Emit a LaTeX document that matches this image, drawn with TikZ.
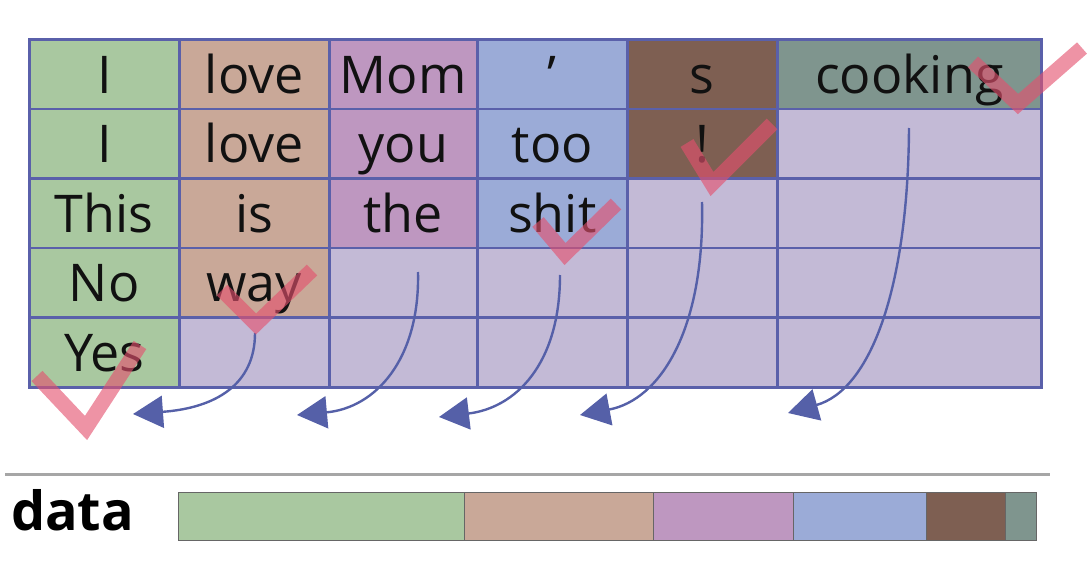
\documentclass[tikz,border=0pt]{standalone}
\usepackage{fontspec}
\setmainfont{Open Sans}
\usetikzlibrary{arrows.meta}
\definecolor{cgreen}{HTML}{A9C8A0}
\definecolor{csalmon}{HTML}{C9A898}
\definecolor{cpurple}{HTML}{BE97C0}
\definecolor{cblue}{HTML}{9BABD7}
\definecolor{cbrown}{HTML}{7E5F52}
\definecolor{cteal}{HTML}{7F958E}
\definecolor{cempty}{HTML}{C3BAD6}
\definecolor{gridc}{HTML}{5A60AA}
\definecolor{arrowc}{HTML}{5560A8}
\definecolor{checkc}{HTML}{E4506E}
\definecolor{txt}{HTML}{111111}
\tikzset{
  cell/.style={draw=gridc, line width=2.6pt, anchor=north west, minimum height=69.6pt,
    inner sep=0pt, text height=42pt, text depth=4pt, text=txt,
    font=\fontsize{52}{60}\selectfont},
  wa/.style={minimum width=150pt},
  wb/.style={minimum width=148pt},
  wc/.style={minimum width=264pt},
  flow/.style={draw=arrowc, line width=2.4pt, -{Triangle[length=30pt,width=32pt]}},
  tick/.style={draw=checkc, opacity=0.62, line width=15pt, line cap=butt, line join=miter},
  seg/.style={draw=black!60, line width=1.4pt, minimum height=48pt, anchor=north west, inner sep=0pt}
}
\begin{document}
\begin{tikzpicture}[x=1pt,y=-1pt]
\useasboundingbox (0,0) rectangle (1088,578);
% row 1
\node[cell,wa,fill=cgreen]  (r1c1) at (28,38) {I};
\node[cell,wa,fill=csalmon] (r1c2) at (178,38) {love};
\node[cell,wb,fill=cpurple] (r1c3) at (328,38) {Mom};
\node[cell,wa,fill=cblue]   (r1c4) at (476,38) {’};
\node[cell,wa,fill=cbrown]  (r1c5) at (626,38) {s};
\node[cell,wc,fill=cteal]   (r1c6) at (776,38) {cooking};
% row 2
\node[cell,wa,fill=cgreen]  (r2c1) at (28,107.6) {I};
\node[cell,wa,fill=csalmon] (r2c2) at (178,107.6) {love};
\node[cell,wb,fill=cpurple] (r2c3) at (328,107.6) {you};
\node[cell,wa,fill=cblue]   (r2c4) at (476,107.6) {too};
\node[cell,wa,fill=cbrown]  (r2c5) at (626,107.6) {!};
\node[cell,wc,fill=cempty]  (r2c6) at (776,107.6) {};
% row 3
\node[cell,wa,fill=cgreen]  (r3c1) at (28,177.2) {This};
\node[cell,wa,fill=csalmon] (r3c2) at (178,177.2) {is};
\node[cell,wb,fill=cpurple] (r3c3) at (328,177.2) {the};
\node[cell,wa,fill=cblue]   (r3c4) at (476,177.2) {shit};
\node[cell,wa,fill=cempty]  (r3c5) at (626,177.2) {};
\node[cell,wc,fill=cempty]  (r3c6) at (776,177.2) {};
% row 4
\node[cell,wa,fill=cgreen]  (r4c1) at (28,246.8) {No};
\node[cell,wa,fill=csalmon] (r4c2) at (178,246.8) {way};
\node[cell,wb,fill=cempty]  (r4c3) at (328,246.8) {};
\node[cell,wa,fill=cempty]  (r4c4) at (476,246.8) {};
\node[cell,wa,fill=cempty]  (r4c5) at (626,246.8) {};
\node[cell,wc,fill=cempty]  (r4c6) at (776,246.8) {};
% row 5
\node[cell,wa,fill=cgreen]  (r5c1) at (28,316.4) {Yes};
\node[cell,wa,fill=cempty]  (r5c2) at (178,316.4) {};
\node[cell,wb,fill=cempty]  (r5c3) at (328,316.4) {};
\node[cell,wa,fill=cempty]  (r5c4) at (476,316.4) {};
\node[cell,wa,fill=cempty]  (r5c5) at (626,316.4) {};
\node[cell,wc,fill=cempty]  (r5c6) at (776,316.4) {};
% arrows
\coordinate (s1) at (255,333); \coordinate (e1) at (133,414);
\coordinate (s2) at (418,272); \coordinate (e2) at (297,415);
\coordinate (s3) at (560,275); \coordinate (e3) at (439,417);
\coordinate (s4) at (702,202); \coordinate (e4) at (580,415);
\coordinate (s5) at (909,128); \coordinate (e5) at (788,413);
\draw[flow] (s1) .. controls (255,385) and (215,408) .. (e1);
\draw[flow] (s2) .. controls (420,360) and (375,408) .. (e2);
\draw[flow] (s3) .. controls (560,365) and (515,408) .. (e3);
\draw[flow] (s4) .. controls (705,330) and (660,400) .. (e4);
\draw[flow] (s5) .. controls (908,290) and (870,390) .. (e5);
% ticks
\draw[tick] (37,376) -- (86,428) -- (140,345);
\draw[tick] (222,290) -- (256,324) -- (312,270);
\draw[tick] (538,222) -- (565,254) -- (616,204);
\draw[tick] (687,143) -- (712,184) -- (772,124);
\draw[tick] (973,62) -- (1018,104) -- (1082,48);
% bottom
\coordinate (la) at (5,474); \coordinate (lb) at (1050,474);
\draw[black!35, line width=3pt] (la) -- (lb);
\node[anchor=base west, inner sep=0pt, font=\fontsize{54}{60}\selectfont\bfseries, text=black] (data) at (11,530) {data};
\node[seg, fill=cgreen,  minimum width=286pt] (b1) at (178,492) {};
\node[seg, fill=csalmon, minimum width=189pt] (b2) at (464,492) {};
\node[seg, fill=cpurple, minimum width=140pt] (b3) at (653,492) {};
\node[seg, fill=cblue,   minimum width=133pt] (b4) at (793,492) {};
\node[seg, fill=cbrown,  minimum width=79pt]  (b5) at (926,492) {};
\node[seg, fill=cteal,   minimum width=31pt]  (b6) at (1005,492) {};
\end{tikzpicture}
\end{document}
